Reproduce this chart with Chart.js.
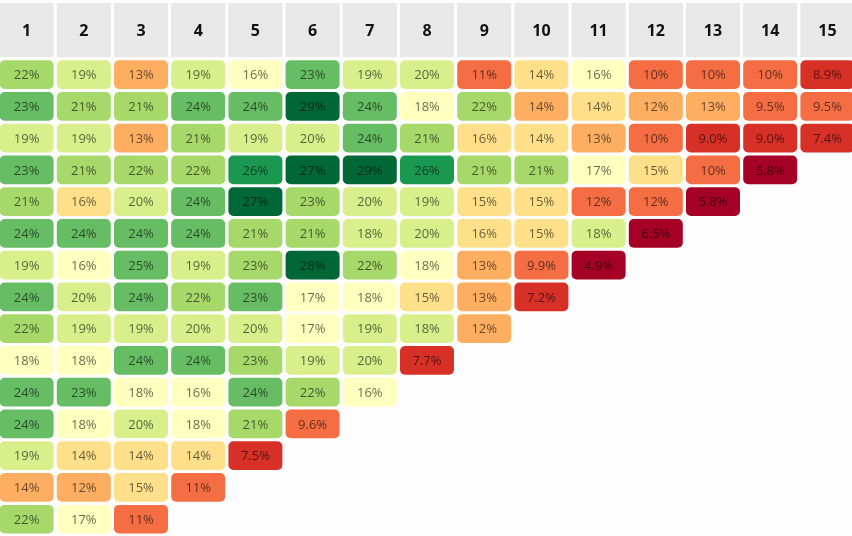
<!DOCTYPE html>
<html>
<head>
<meta charset="utf-8">
<script src="https://cdn.jsdelivr.net/npm/chart.js@4.4.1/dist/chart.umd.min.js"></script>
<style>
  html, body { margin: 0; padding: 0; background: #fdfdfd; overflow: hidden; }
  #wrap { position: absolute; left: -1.6px; top: 0; width: 858px; height: 536px; }
</style>
</head>
<body>
<div id="wrap"><canvas id="cohort"></canvas></div>
<script>
// column headers
const columns = ['1','2','3','4','5','6','7','8','9','10','11','12','13','14','15'];

// retention per cohort row (percent)
const row1  = [22, 19, 13, 19, 16, 23.2, 19, 20, 11, 14, 16, 10, 10, 10, 8.9];
const row2  = [23, 21, 21, 24, 24, 29, 24, 18, 22, 13.6, 14, 12, 13, 9.5, 9.5];
const row3  = [19, 19, 13, 21, 19, 20, 24, 21, 15.7, 14, 13, 10, 9.0, 9.0, 7.4];
const row4  = [23, 21, 22, 22, 26, 27, 29, 26, 21, 21, 17, 15, 10, 5.8];
const row5  = [21, 15.6, 20, 24, 27, 22.6, 20, 19, 15, 15, 11.6, 11.6, 5.8];
const row6  = [24, 24, 24, 24, 21, 21, 18.4, 20, 15.7, 15, 18.4, 6.5];
const row7  = [19, 16, 25, 19, 22.6, 28, 22, 18, 13, 9.9, 4.9];
const row8  = [24, 20, 24, 22, 23, 17, 18, 15, 13, 7.2];
const row9  = [22, 19, 19, 20, 20, 17, 19, 18.4, 12];
const row10 = [18, 18, 24, 24, 22.6, 19, 20, 7.7];
const row11 = [24, 23, 18, 16, 24, 22, 16];
const row12 = [24, 18, 20, 18, 21, 9.6];
const row13 = [19, 14, 14, 14, 7.5];
const row14 = [13.6, 12, 15, 11];
const row15 = [22, 17, 11];

const rows = [row1, row2, row3, row4, row5, row6, row7, row8, row9, row10,
              row11, row12, row13, row14, row15];

// colour bins (RdYlGn)
const binLimits = [7.0, 9.3, 11.7, 13.7, 15.8, 18.2, 20.6, 22.7, 25.3, 26.8];
const binColors = ['#a50026', '#d73027', '#f46d43', '#fdae61', '#fee08b', '#ffffbf',
                   '#d9ef8b', '#a6d96a', '#66bd63', '#1a9850', '#006837'];

function cellColor(v) {
  let i = 0;
  while (i < binLimits.length && v >= binLimits[i]) i++;
  return binColors[i];
}

function fmt(v) {
  return v >= 10 ? Math.round(v) + '%' : v.toFixed(1) + '%';
}

const HALF = 0.452;

const datasets = [{
  label: 'header',
  data: columns.map(() => [-1.254, 0.446]),
  backgroundColor: '#e8e8e8',
  borderRadius: 0,
  texts: columns
}];

rows.forEach((vals, r) => {
  const y = r + 1;
  datasets.push({
    label: 'row ' + y,
    data: vals.map(() => [y - HALF, y + HALF]),
    backgroundColor: vals.map(cellColor),
    borderRadius: 5,
    texts: vals.map(fmt)
  });
});

const cellLabels = {
  id: 'cellLabels',
  afterDatasetsDraw(chart) {
    const ctx = chart.ctx;
    ctx.save();
    ctx.textAlign = 'center';
    ctx.textBaseline = 'middle';
    chart.data.datasets.forEach((ds, di) => {
      const meta = chart.getDatasetMeta(di);
      if (di === 0) {
        ctx.font = 'bold 16px "Open Sans"';
        ctx.fillStyle = '#111';
      } else {
        ctx.font = '13px "Open Sans"';
        ctx.fillStyle = 'rgba(0,0,0,0.6)';
      }
      meta.data.forEach((el, i) => {
        const p = el.getCenterPoint();
        ctx.fillText(ds.texts[i], p.x, p.y + 1);
      });
    });
    ctx.restore();
  }
};

new Chart(document.getElementById('cohort'), {
  type: 'bar',
  data: { labels: columns, datasets: datasets },
  options: {
    responsive: true,
    maintainAspectRatio: false,
    animation: false,
    layout: { padding: 0 },
    datasets: {
      bar: {
        grouped: false,
        categoryPercentage: 1,
        barPercentage: 0.944,
        borderSkipped: false,
        borderWidth: 0
      }
    },
    plugins: {
      legend: { display: false },
      tooltip: { enabled: false }
    },
    scales: {
      x: { type: 'category', display: false, offset: true },
      y: { type: 'linear', display: false, reverse: true, min: -1.349, max: 15.528 }
    }
  },
  plugins: [cellLabels]
});
</script>
</body>
</html>
